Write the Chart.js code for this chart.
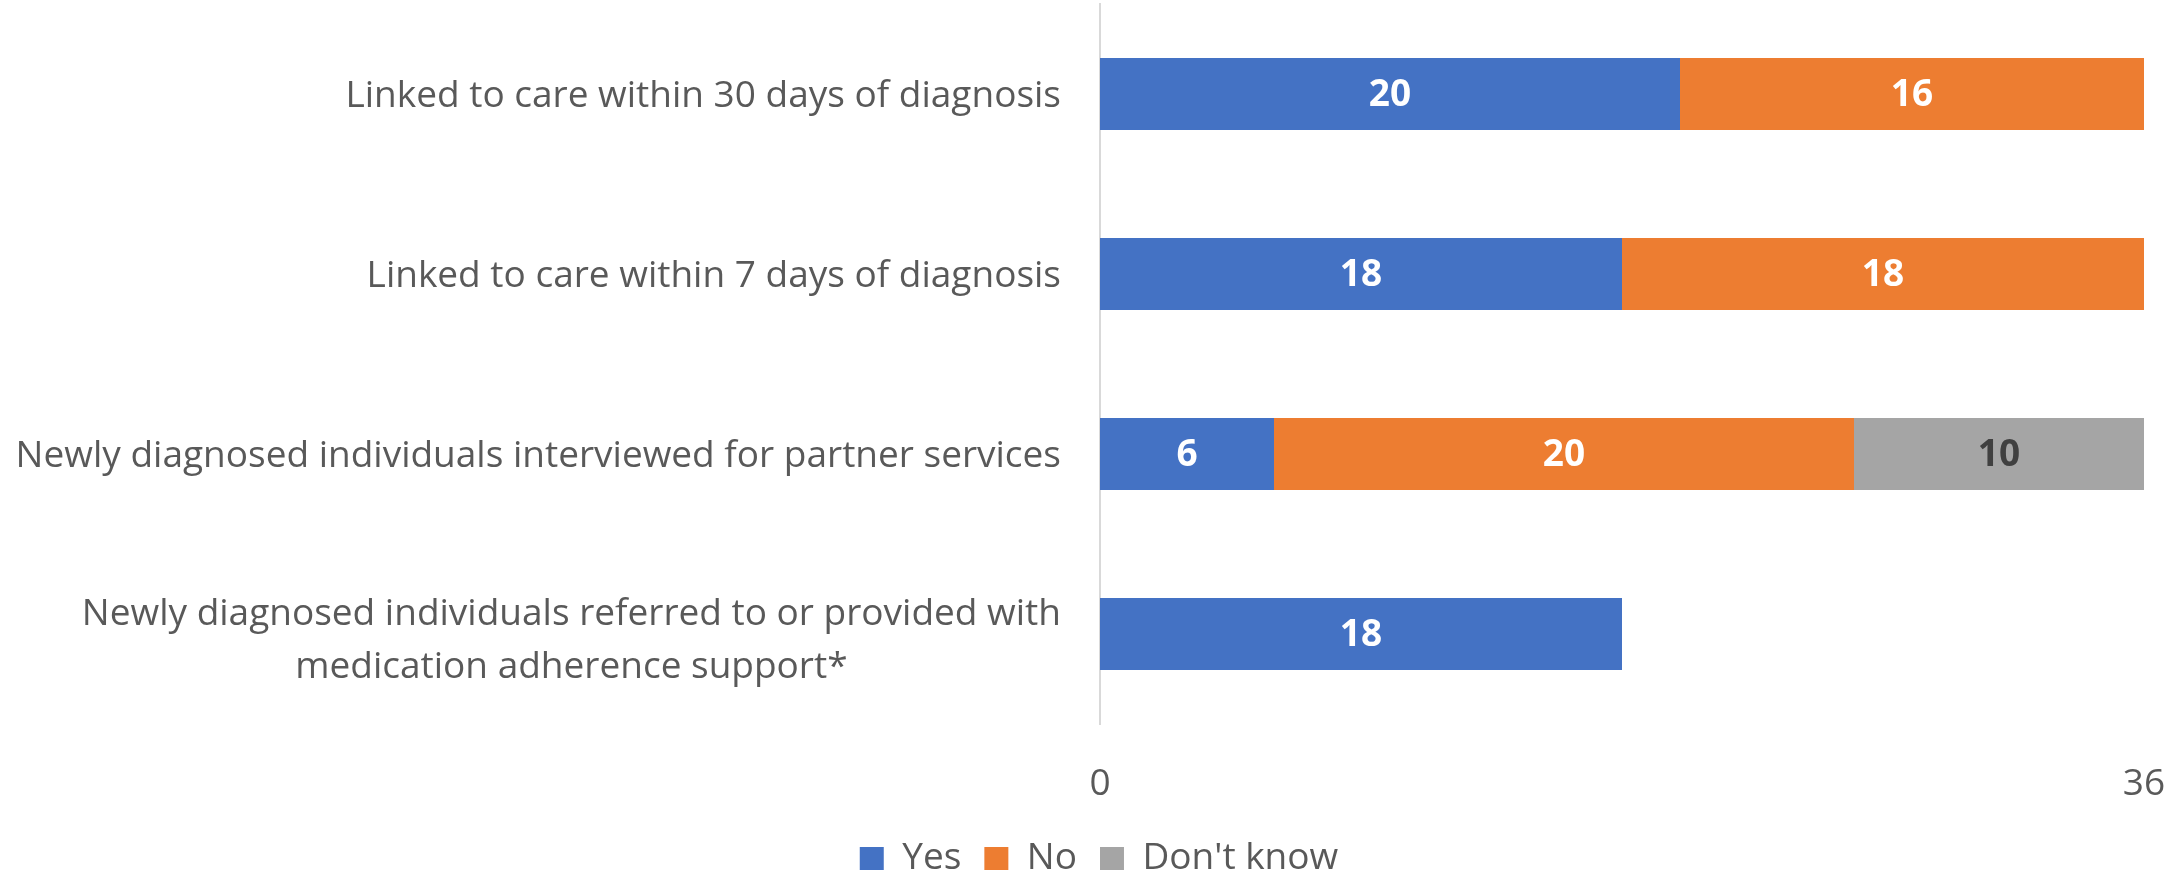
<!DOCTYPE html>
<html>
<head>
<meta charset="utf-8">
<script src="https://cdn.jsdelivr.net/npm/chart.js@4"></script>
<style>
  html, body { margin: 0; padding: 0; background: #fff; }
  #wrap { width: 2170px; height: 875px; position: relative; }
</style>
</head>
<body>
<div id="wrap"><canvas id="chart"></canvas></div>
<script>
// Chart data
const categories = [
  'Linked to care within 30 days of diagnosis',
  'Linked to care within 7 days of diagnosis',
  'Newly diagnosed individuals interviewed for partner services',
  ['Newly diagnosed individuals referred to or provided with', 'medication adherence support*']
];
const yesValues = [20, 18, 6, 18];
const noValues = [16, 18, 20, null];
const dontKnowValues = [null, null, 10, null];
const xTicks = [0, 36];

const FONT = '"Open Sans", sans-serif';
const TEXT = '#595959';

// Value labels centred in each bar segment
const barLabels = {
  id: 'barLabels',
  afterDatasetsDraw(chart) {
    const ctx = chart.ctx;
    ctx.save();
    ctx.font = 'bold 37px ' + FONT;
    ctx.textAlign = 'center';
    ctx.textBaseline = 'middle';
    chart.data.datasets.forEach((ds, i) => {
      const meta = chart.getDatasetMeta(i);
      meta.data.forEach((bar, j) => {
        const v = ds.data[j];
        if (v == null) return;
        ctx.fillStyle = ds.labelColor;
        ctx.fillText(String(v), (bar.x + bar.base) / 2, bar.y + 1);
      });
    });
    ctx.restore();
  }
};

// Category labels, multi-line ones centred on their widest line
const catLabels = {
  id: 'catLabels',
  afterDraw(chart) {
    const ctx = chart.ctx;
    const y = chart.scales.y;
    const right = chart.chartArea.left - 39;
    const lineH = 53;
    ctx.save();
    ctx.font = '37px ' + FONT;
    ctx.fillStyle = TEXT;
    ctx.textBaseline = 'middle';
    ctx.textAlign = 'center';
    categories.forEach((lab, i) => {
      const cy = y.getPixelForValue(i);
      const lines = Array.isArray(lab) ? lab : [lab];
      const w = Math.max(...lines.map(l => ctx.measureText(l).width));
      const cx = right - w / 2;
      const shift = lines.length > 1 ? 7 : 2;
      lines.forEach((l, k) => {
        ctx.fillText(l, cx, cy + (k - (lines.length - 1) / 2) * lineH + shift);
      });
    });
    ctx.restore();
  }
};

// Legend sits lower than Chart.js would put it
const legendHeight = {
  id: 'legendHeight',
  beforeLayout(chart) {
    const lg = chart.legend;
    if (!lg || lg._patched) return;
    const fit = lg.fit;
    lg.fit = function() {
      fit.call(this);
      this.height = 58;
    };
    lg._patched = true;
  }
};

const ctx = document.getElementById('chart').getContext('2d');
new Chart(ctx, {
  type: 'bar',
  data: {
    labels: categories,
    datasets: [
      { label: 'Yes', data: yesValues, backgroundColor: '#4472C4', labelColor: '#FFFFFF' },
      { label: 'No', data: noValues, backgroundColor: '#ED7D31', labelColor: '#FFFFFF' },
      { label: "Don't know", data: dontKnowValues, backgroundColor: '#A5A5A5', labelColor: '#404040' }
    ]
  },
  options: {
    indexAxis: 'y',
    responsive: true,
    maintainAspectRatio: false,
    animation: false,
    datasets: {
      bar: { categoryPercentage: 1, barPercentage: 0.4 }
    },
    layout: { padding: { top: 4, right: 26, left: 54, bottom: 0 } },
    scales: {
      x: {
        stacked: true,
        min: 0,
        max: 36,
        afterBuildTicks: axis => { axis.ticks = xTicks.map(v => ({ value: v })); },
        afterFit: scale => {
          scale.paddingLeft = 0;
          scale.paddingRight = 0;
          scale.height = 93;
        },
        grid: { display: false, drawTicks: false },
        border: { display: false },
        ticks: { color: TEXT, font: { family: FONT, size: 37 }, padding: 38, maxRotation: 0 }
      },
      y: {
        stacked: true,
        afterFit: scale => { scale.width = 1046; },
        grid: { display: false, drawTicks: false },
        border: { display: true, color: '#D9D9D9', width: 2 },
        ticks: { display: false }
      }
    },
    plugins: {
      legend: {
        position: 'bottom',
        labels: {
          color: TEXT,
          font: { family: FONT, size: 37 },
          boxWidth: 24,
          boxHeight: 23,
          padding: 23
        }
      },
      tooltip: { enabled: false }
    }
  },
  plugins: [barLabels, catLabels, legendHeight]
});
</script>
</body>
</html>
